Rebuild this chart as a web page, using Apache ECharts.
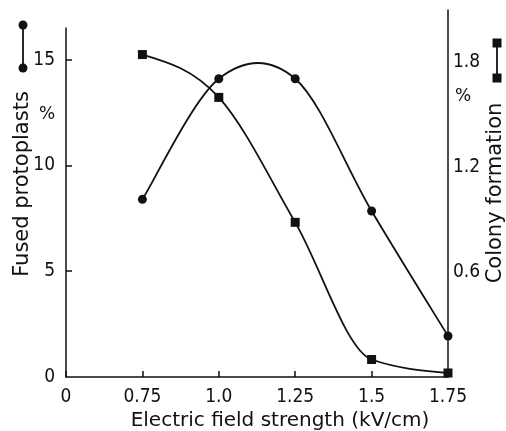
<!DOCTYPE html>
<html>
<head>
<meta charset="utf-8">
<script src="https://cdn.jsdelivr.net/npm/echarts@6/dist/echarts.min.js"></script>
<style>html,body{margin:0;padding:0;background:#fff;}#c{width:506px;height:431px;}</style>
</head>
<body>
<div id="c"></div>
<script>
const xLabels = ['0', '0.75', '1.0', '1.25', '1.5', '1.75'];
const fusedProtoplasts = [null, 8.4, 14.1, 14.1, 7.85, 1.94];
const colonyFormation = [null, 1.845, 1.6, 0.885, 0.1, 0.023];
const leftTicks = [0, 5, 10, 15];
const rightTicks = [0.6, 1.2, 1.8];

const tickFont = "'DejaVu Sans Condensed', 'DejaVu Sans', sans-serif";
const nameFont = "'DejaVu Sans', sans-serif";
const ink = '#111';

function pixelPoints(values, api) {
  const pts = [];
  values.forEach((v, i) => { if (v !== null) pts.push(api.coord([i, v])); });
  return pts;
}
function pathStyle(d) {
  return {type: 'path', shape: {pathData: d}, style: {stroke: ink, lineWidth: 1.8, fill: 'none'}, silent: true};
}
// Cardinal (Catmull-Rom) curve through the points
function cardinalRenderer(values) {
  return function (params, api) {
    const pts = pixelPoints(values, api);
    let d = 'M' + pts[0][0] + ' ' + pts[0][1];
    for (let i = 0; i < pts.length - 1; i++) {
      const p0 = pts[Math.max(i - 1, 0)], p1 = pts[i], p2 = pts[i + 1], p3 = pts[Math.min(i + 2, pts.length - 1)];
      d += ' C' + (p1[0] + (p2[0] - p0[0]) / 6) + ' ' + (p1[1] + (p2[1] - p0[1]) / 6) + ' ' +
        (p2[0] - (p3[0] - p1[0]) / 6) + ' ' + (p2[1] - (p3[1] - p1[1]) / 6) + ' ' + p2[0] + ' ' + p2[1];
    }
    return pathStyle(d);
  };
}
// Monotone cubic curve through the points (no overshoot)
function monotoneRenderer(values) {
  return function (params, api) {
    const p = pixelPoints(values, api), n = p.length;
    const h = [], s = [], t = new Array(n);
    for (let i = 0; i < n - 1; i++) { h.push(p[i + 1][0] - p[i][0]); s.push((p[i + 1][1] - p[i][1]) / h[i]); }
    for (let i = 1; i < n - 1; i++) {
      const q = (s[i - 1] * h[i] + s[i] * h[i - 1]) / (h[i - 1] + h[i]);
      t[i] = (Math.sign(s[i - 1]) + Math.sign(s[i])) * Math.min(Math.abs(s[i - 1]), Math.abs(s[i]), 0.5 * Math.abs(q)) || 0;
    }
    t[0] = (3 * s[0] - t[1]) / 2;
    t[n - 1] = (3 * s[n - 2] - t[n - 2]) / 2;
    let d = 'M' + p[0][0] + ' ' + p[0][1];
    for (let i = 0; i < n - 1; i++) {
      const dx = h[i] / 3;
      d += ' C' + (p[i][0] + dx) + ' ' + (p[i][1] + t[i] * dx) + ' ' +
        (p[i + 1][0] - dx) + ' ' + (p[i + 1][1] - t[i + 1] * dx) + ' ' + p[i + 1][0] + ' ' + p[i + 1][1];
    }
    return pathStyle(d);
  };
}

const chart = echarts.init(document.getElementById('c'), null, {renderer: 'canvas'});
chart.setOption({
  backgroundColor: '#fff',
  animation: false,
  grid: [
    {left: 66, right: 58, top: 28, bottom: 54},
    {left: 66, right: 58, top: 10, bottom: 54}
  ],
  xAxis: [
    {
      type: 'category', gridIndex: 0, data: xLabels, boundaryGap: false,
      axisLine: {lineStyle: {color: ink, width: 1.5}},
      axisTick: {inside: true, length: 6, lineStyle: {color: ink, width: 1.5}},
      axisLabel: {color: ink, fontFamily: tickFont, fontSize: 19, margin: 11, interval: 0},
      splitLine: {show: false}
    },
    {
      type: 'category', gridIndex: 1, data: xLabels, boundaryGap: false, show: false
    }
  ],
  yAxis: [
    {
      type: 'value', gridIndex: 0, position: 'left', min: 0, max: 16.5,
      axisLine: {show: true, lineStyle: {color: ink, width: 1.5}},
      axisTick: {show: true, inside: true, length: 6, customValues: [5, 10, 15], lineStyle: {color: ink, width: 1.5}},
      axisLabel: {color: ink, fontFamily: tickFont, fontSize: 19, margin: 11, customValues: leftTicks},
      splitLine: {show: false}
    },
    {
      type: 'value', gridIndex: 1, position: 'right', min: 0, max: 2.1,
      axisLine: {show: true, lineStyle: {color: ink, width: 1.5}},
      axisTick: {show: false},
      axisLabel: {color: ink, fontFamily: tickFont, fontSize: 19, margin: 5, customValues: rightTicks,
        formatter: v => v.toFixed(1)},
      splitLine: {show: false}
    }
  ],
  series: [
    {
      type: 'custom', xAxisIndex: 0, yAxisIndex: 0, data: [[1, fusedProtoplasts[1]]],
      renderItem: cardinalRenderer(fusedProtoplasts), clip: false, z: 2
    },
    {
      type: 'custom', xAxisIndex: 1, yAxisIndex: 1, data: [[1, colonyFormation[1]]],
      renderItem: monotoneRenderer(colonyFormation), clip: false, z: 2
    },
    {
      name: 'Fused protoplasts', type: 'scatter', xAxisIndex: 0, yAxisIndex: 0,
      data: fusedProtoplasts, symbol: 'circle', symbolSize: 9,
      itemStyle: {color: ink, opacity: 1}, z: 3
    },
    {
      name: 'Colony formation', type: 'scatter', xAxisIndex: 1, yAxisIndex: 1,
      data: colonyFormation, symbol: 'rect', symbolSize: 9,
      itemStyle: {color: ink, opacity: 1}, z: 3
    }
  ],
  graphic: [
    {type: 'text', x: 280, y: 421, style: {text: 'Electric field strength (kV/cm)', fill: ink, font: '20px ' + nameFont, textAlign: 'center', textVerticalAlign: 'middle'}},
    {type: 'text', x: 23, y: 184, rotation: Math.PI / 2, style: {text: 'Fused protoplasts', fill: ink, font: '21px ' + nameFont, textAlign: 'center', textVerticalAlign: 'middle'}},
    {type: 'text', x: 496, y: 193, rotation: Math.PI / 2, style: {text: 'Colony formation', fill: ink, font: '21px ' + nameFont, textAlign: 'center', textVerticalAlign: 'middle'}},
    {type: 'text', x: 47, y: 115, style: {text: '%', fill: ink, font: '17px ' + nameFont, textAlign: 'center', textVerticalAlign: 'middle'}},
    {type: 'text', x: 463, y: 97, style: {text: '%', fill: ink, font: '17px ' + nameFont, textAlign: 'center', textVerticalAlign: 'middle'}},
    {type: 'line', shape: {x1: 23, y1: 25, x2: 23, y2: 68}, style: {stroke: ink, lineWidth: 1.8}},
    {type: 'circle', shape: {cx: 23, cy: 25, r: 4.5}, style: {fill: ink}},
    {type: 'circle', shape: {cx: 23, cy: 68, r: 4.5}, style: {fill: ink}},
    {type: 'line', shape: {x1: 497, y1: 43, x2: 497, y2: 78}, style: {stroke: ink, lineWidth: 1.8}},
    {type: 'rect', shape: {x: 492.5, y: 38.5, width: 9, height: 9}, style: {fill: ink}},
    {type: 'rect', shape: {x: 492.5, y: 73.5, width: 9, height: 9}, style: {fill: ink}}
  ]
});
</script>
</body>
</html>
